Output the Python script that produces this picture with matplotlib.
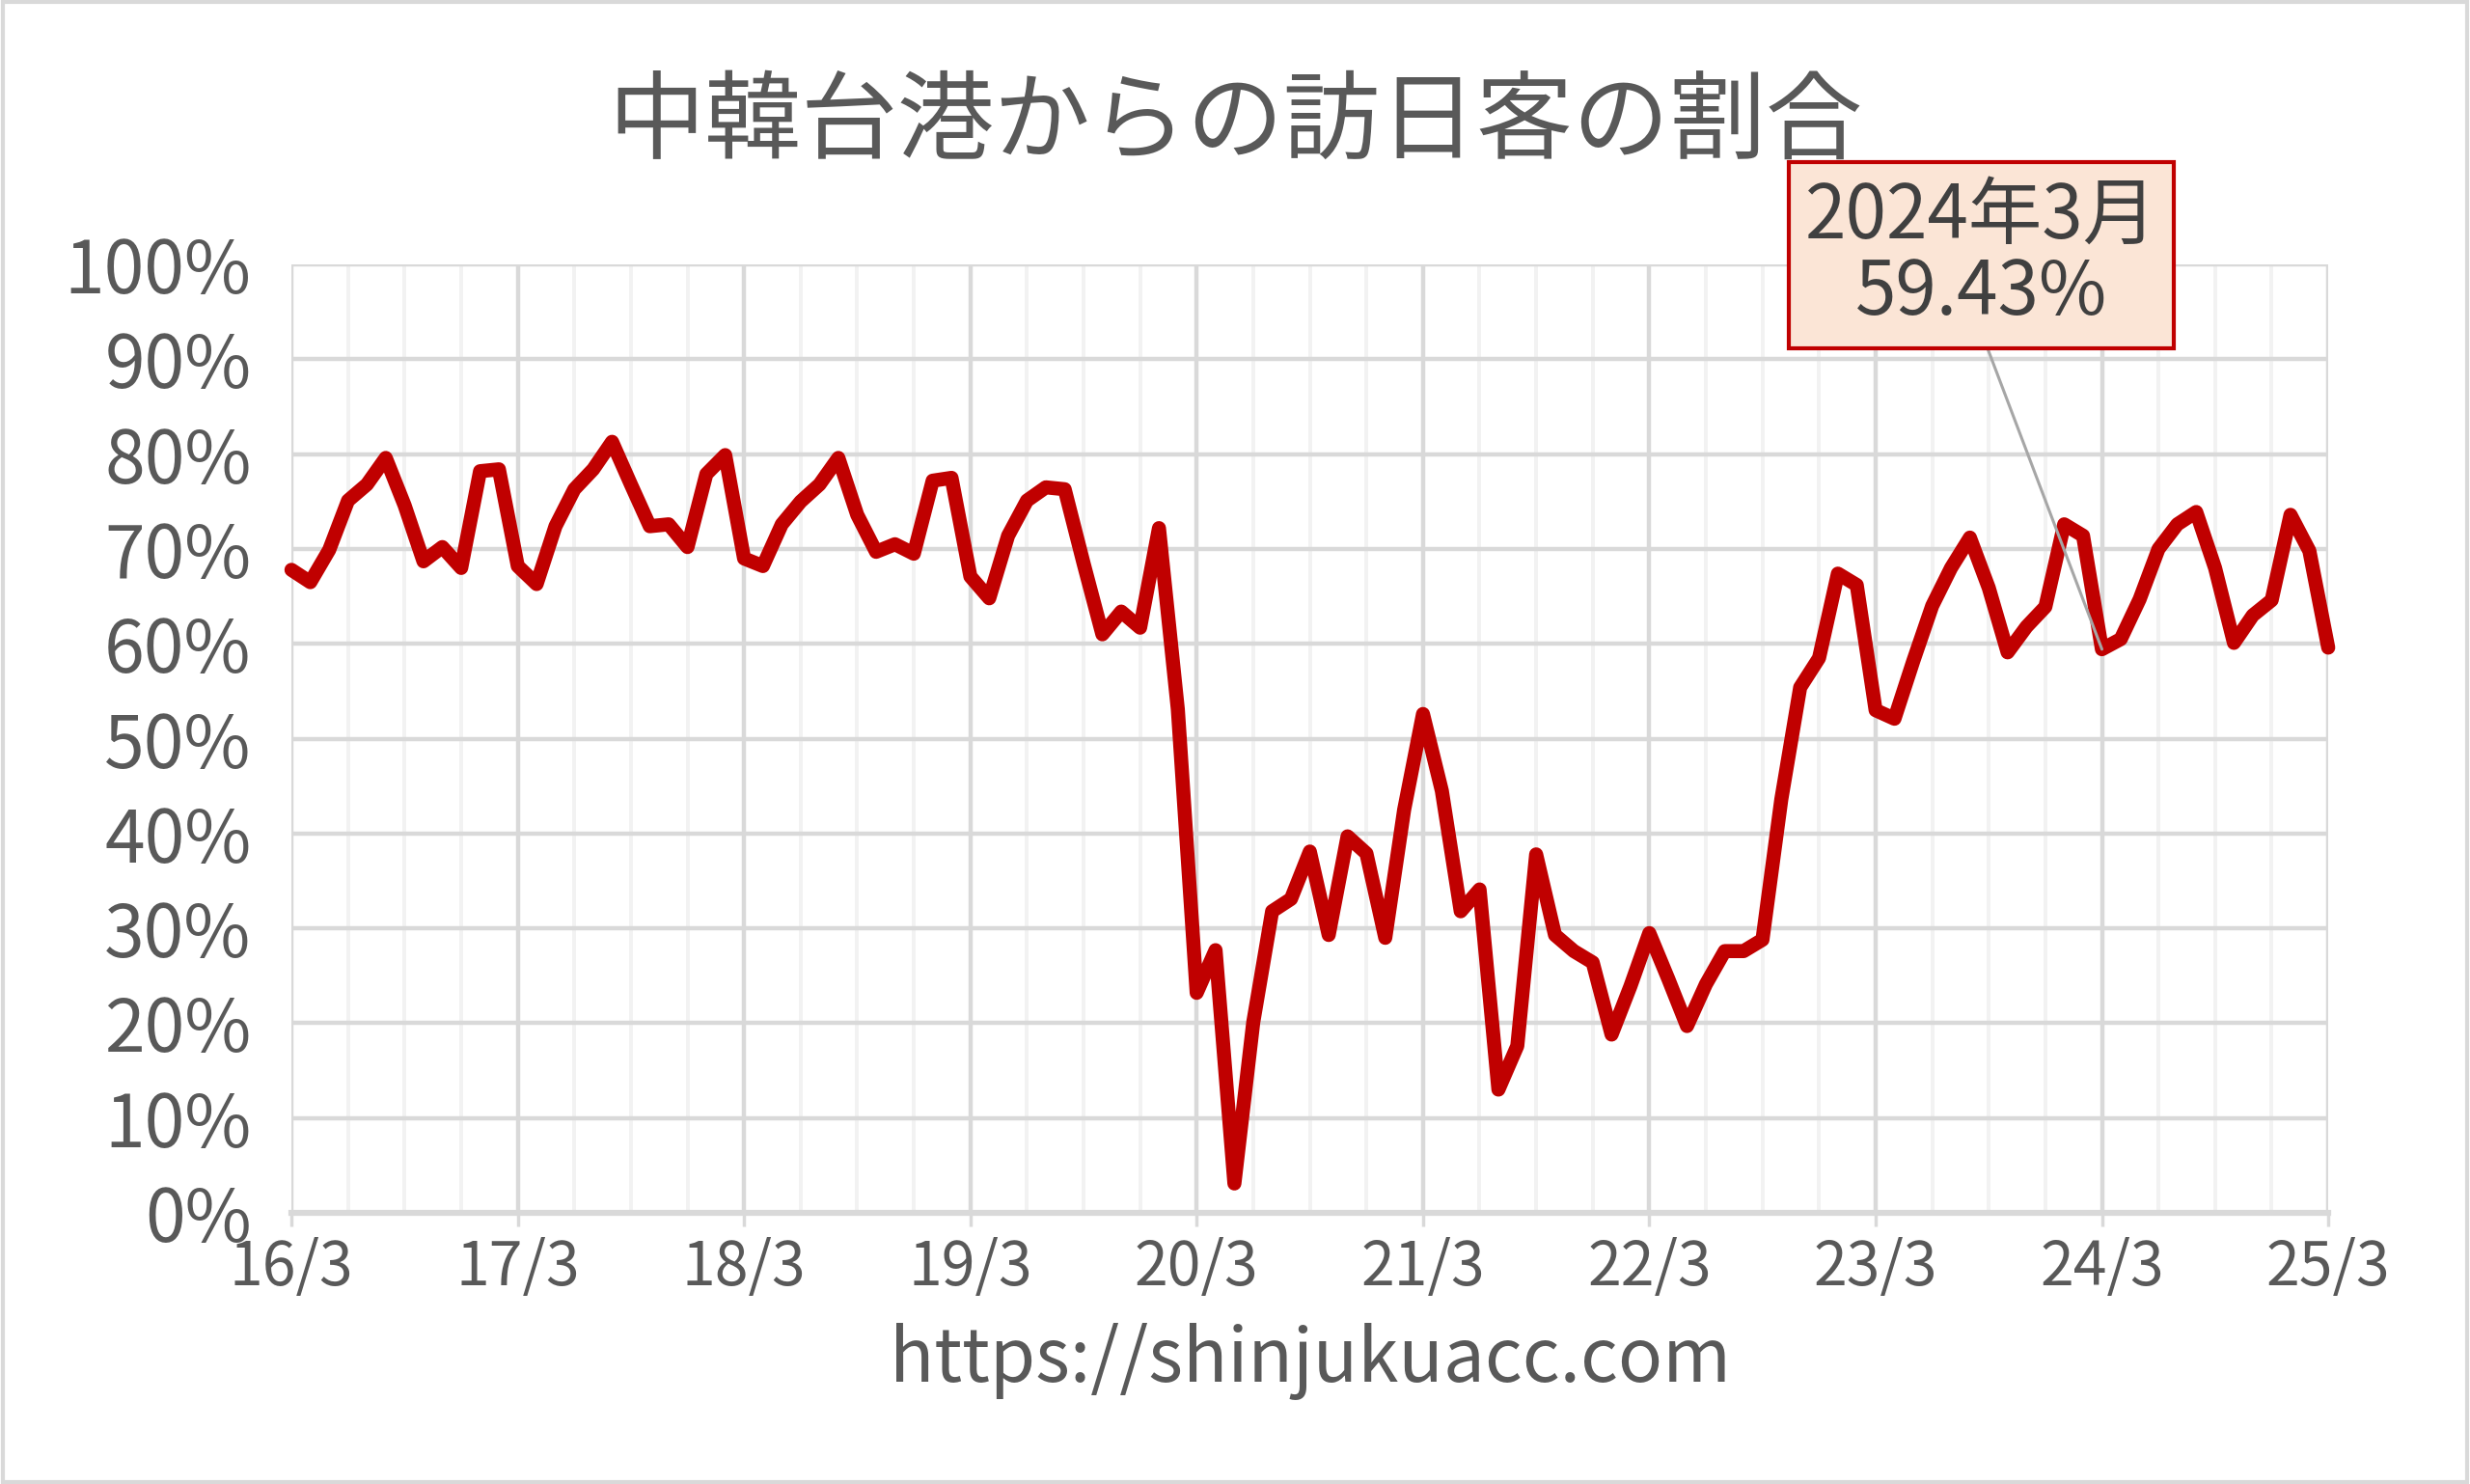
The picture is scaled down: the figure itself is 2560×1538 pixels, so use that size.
import numpy as np
import matplotlib
matplotlib.use("Agg")
import matplotlib.pyplot as plt
from matplotlib.patches import Rectangle
from matplotlib.ticker import FixedLocator, MultipleLocator

plt.rcParams['font.family'] = ['Noto Sans CJK JP', 'DejaVu Sans']

# 月次データ 2016年3月 〜 2025年3月（%）
share = [
    67.8, 66.5, 69.9, 75.1, 76.8, 79.6, 74.6, 68.7, 70.2, 68.0, 78.2, 78.4,
    68.2, 66.3, 72.4, 76.3, 78.4, 81.3, 76.8, 72.4, 72.6, 70.2, 77.9, 79.9,
    69.0, 68.2, 72.6, 75.0, 76.8, 79.6, 73.6, 69.7, 70.5, 69.5, 77.2, 77.5,
    67.1, 64.8, 71.4, 75.1, 76.5, 76.3, 68.5, 61.0, 63.4, 61.7, 72.2, 53.1,
    23.2, 27.7, 3.1, 20.1, 31.8, 33.1, 38.1, 29.3, 39.7, 37.9, 29.0, 42.5,
    52.6, 44.5, 31.8, 34.1, 13.0, 17.6, 37.8, 29.3, 27.6, 26.4, 18.8, 23.9,
    29.5, 24.7, 19.7, 24.1, 27.6, 27.6, 28.8, 43.6, 55.4, 58.5, 67.4, 66.2,
    53.0, 52.1, 58.2, 64.0, 68.0, 71.2, 65.9, 59.1, 61.8, 63.9, 72.6, 71.4,
    59.43, 60.5, 64.7, 70.0, 72.6, 73.9, 68.0, 60.1, 63.0, 64.6, 73.6, 69.8,
    59.6,
]
year_labels = ["16/3", "17/3", "18/3", "19/3", "20/3", "21/3", "22/3", "23/3", "24/3", "25/3"]
y_labels = ["0%", "10%", "20%", "30%", "40%", "50%", "60%", "70%", "80%", "90%", "100%"]

title = "中韓台港からの訪日客の割合"
source = "https://shinjukuacc.com"
note_idx = 96
note_text = "2024年3月\n59.43%"

TXT = "#595959"
GRID = "#d9d9d9"
MINOR = "#f2f2f2"
RED = "#c00000"

x = np.arange(len(share))

fig = plt.figure(figsize=(25.6, 15.38), dpi=100)
ax = fig.add_axes([0.118, 0.1827, 0.8246, 0.6391])

ax.plot(x, share, color=RED, lw=10.5, solid_joinstyle="round", solid_capstyle="round",
        zorder=5, clip_on=False)

ax.set_xlim(0, len(share) - 1)
ax.set_ylim(0, 100)

ax.xaxis.set_major_locator(FixedLocator(np.arange(0, len(share), 12)))
ax.set_xticklabels(year_labels)
ax.xaxis.set_minor_locator(MultipleLocator(3))
ax.set_yticks(np.arange(0, 101, 10))
ax.set_yticklabels(y_labels)

ax.grid(which="minor", axis="x", color=MINOR, lw=2.8, zorder=0)
ax.grid(which="major", axis="x", color=GRID, lw=3.2, zorder=1)
ax.grid(which="major", axis="y", color=GRID, lw=3.2, zorder=1)
ax.set_axisbelow(True)

for s in ["top", "right", "left"]:
    ax.spines[s].set_visible(False)
ax.spines["bottom"].set_color(GRID)
ax.spines["bottom"].set_linewidth(4.5)

ax.tick_params(axis="x", which="major", length=10, width=2.5, color=GRID,
               labelsize=45, labelcolor=TXT, pad=8)
ax.tick_params(axis="x", which="minor", length=0)
ax.tick_params(axis="y", length=0, labelsize=54, labelcolor=TXT, pad=30)

ax.set_xlabel(source, fontsize=55, color=TXT, labelpad=18)

fig.text(0.5, 0.917, title, ha="center", va="center", fontsize=72, color=TXT)

ax.annotate(note_text, xy=(note_idx, share[note_idx]), xytext=(89.6, 101.0),
            textcoords="data", ha="center", va="center", fontsize=55, color="#404040",
            linespacing=1.0, annotation_clip=False, zorder=10,
            bbox=dict(boxstyle="square,pad=0.22", fc="#fbe5d6", ec=RED, lw=3),
            arrowprops=dict(arrowstyle="-", color="#a6a6a6", lw=2.2,
                            shrinkA=0, shrinkB=0, relpos=(0.5, 0.0)))

fig.patches.append(Rectangle((0.001, 0.001), 0.998, 0.998, transform=fig.transFigure,
                             fill=False, ec=GRID, lw=3))

fig.savefig("out.png", dpi=100, facecolor="white")
